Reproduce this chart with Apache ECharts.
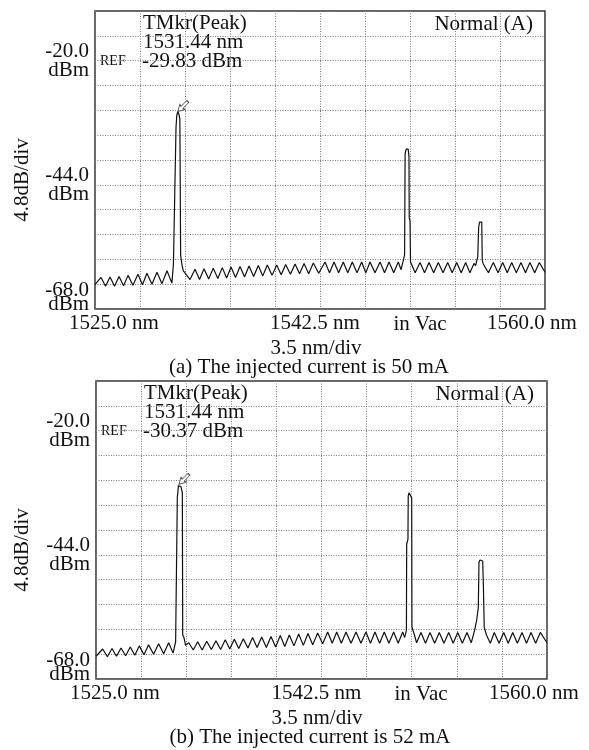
<!DOCTYPE html>
<html>
<head>
<meta charset="utf-8">
<title>OSA spectra</title>
<script src="https://cdn.jsdelivr.net/npm/echarts@6/dist/echarts.min.js"></script>
<style>
  html, body { margin: 0; padding: 0; background: #fff; }
  #chart { width: 589px; height: 750px; }
</style>
</head>
<body>
<div id="chart"></div>
<script>
// spectrum readings: [wavelength (nm), level (dBm)]
const spectrumA = [
  [1525.00, -63.3], [1525.47, -61.9], [1525.82, -63.6], [1526.17, -61.8], [1526.52, -63.6],
  [1526.87, -61.7], [1527.22, -63.5], [1527.57, -61.5], [1527.95, -63.4], [1528.34, -61.3],
  [1528.69, -63.3], [1529.04, -61.1], [1529.43, -63.2], [1529.82, -60.9], [1530.21, -63.1],
  [1530.60, -60.6], [1530.98, -63.0], [1531.10, -59.3], [1531.22, -59.0], [1531.30, -33.0],
  [1531.36, -30.6], [1531.44, -29.83], [1531.52, -30.3], [1531.60, -31.2], [1531.66, -57.6],
  [1531.76, -59.4], [1531.86, -60.6], [1532.39, -62.3], [1532.78, -60.3], [1533.13, -62.3],
  [1533.48, -60.2], [1533.84, -62.2], [1534.20, -60.1], [1534.55, -62.1], [1534.90, -60.0],
  [1535.24, -62.0], [1535.58, -59.9], [1535.93, -61.9], [1536.28, -59.8], [1536.63, -61.8],
  [1536.98, -59.7], [1537.34, -61.7], [1537.70, -59.6], [1538.05, -61.6], [1538.40, -59.5],
  [1538.77, -61.5], [1539.13, -59.5], [1539.48, -61.4], [1539.83, -59.4], [1540.20, -61.3],
  [1540.56, -59.3], [1540.91, -61.2], [1541.26, -59.2], [1541.62, -61.2], [1541.98, -59.1],
  [1542.40, -61.1], [1542.89, -58.9], [1543.24, -61.0], [1543.59, -58.9], [1543.95, -61.0],
  [1544.31, -58.9], [1544.66, -61.0], [1545.01, -58.9], [1545.38, -61.0], [1545.74, -58.9],
  [1546.06, -61.0], [1546.39, -58.9], [1546.78, -61.0], [1547.17, -58.9], [1547.52, -61.0],
  [1547.87, -58.9], [1548.23, -61.0], [1548.59, -58.9], [1548.80, -60.4], [1548.98, -58.6],
  [1549.08, -57.5], [1549.12, -38.0], [1549.20, -37.1], [1549.36, -37.1], [1549.42, -38.5],
  [1549.44, -50.3], [1549.50, -51.0], [1549.54, -58.9], [1549.90, -61.0], [1550.28, -59.0],
  [1550.63, -61.0], [1550.98, -59.0], [1551.34, -61.0], [1551.70, -59.0], [1552.07, -61.0],
  [1552.43, -59.0], [1552.78, -61.0], [1553.13, -59.0], [1553.48, -61.0], [1553.83, -59.0],
  [1554.16, -61.0], [1554.48, -59.2], [1554.60, -59.6], [1554.77, -57.9], [1554.84, -52.2],
  [1554.91, -51.2], [1555.08, -51.2], [1555.12, -58.6], [1555.20, -59.3], [1555.60, -61.0],
  [1555.98, -59.0], [1556.35, -61.0], [1556.71, -59.0], [1557.06, -61.0], [1557.41, -59.0],
  [1557.77, -61.0], [1558.13, -59.0], [1558.48, -61.0], [1558.83, -59.0], [1559.20, -61.0],
  [1559.56, -59.0], [1560.00, -60.9]
];

const spectrumB = [
  [1525.00, -63.6], [1525.52, -62.2], [1525.88, -63.7], [1526.24, -62.1], [1526.59, -63.6],
  [1526.94, -62.0], [1527.30, -63.5], [1527.66, -61.8], [1528.01, -63.4], [1528.36, -61.6],
  [1528.72, -63.3], [1529.08, -61.4], [1529.47, -63.2], [1529.86, -61.2], [1530.25, -63.1],
  [1530.64, -61.0], [1530.98, -63.0], [1531.18, -60.8], [1531.25, -60.6], [1531.31, -33.0],
  [1531.40, -30.6], [1531.44, -30.37], [1531.60, -30.9], [1531.70, -32.0], [1531.73, -59.5],
  [1531.83, -60.0], [1531.95, -61.5], [1532.20, -61.0], [1532.55, -62.4], [1532.89, -60.8],
  [1533.24, -62.4], [1533.59, -60.7], [1533.95, -62.3], [1534.31, -60.6], [1534.67, -62.3],
  [1535.03, -60.4], [1535.38, -62.2], [1535.73, -60.3], [1536.08, -62.1], [1536.43, -60.2],
  [1536.79, -62.0], [1537.15, -60.0], [1537.50, -61.9], [1537.86, -59.9], [1538.22, -61.9],
  [1538.58, -59.8], [1538.94, -61.8], [1539.30, -59.6], [1539.65, -61.7], [1540.00, -59.5],
  [1540.36, -61.6], [1540.73, -59.3], [1541.09, -61.5], [1541.45, -59.2], [1541.82, -61.4],
  [1542.20, -59.1], [1542.59, -61.2], [1542.98, -58.9], [1543.33, -61.1], [1543.68, -58.9],
  [1544.04, -61.1], [1544.40, -58.9], [1544.79, -61.1], [1545.18, -58.9], [1545.56, -61.1],
  [1545.95, -58.9], [1546.30, -61.1], [1546.65, -58.9], [1547.01, -61.1], [1547.37, -58.9],
  [1547.73, -61.1], [1548.10, -58.9], [1548.45, -61.1], [1548.80, -58.9], [1548.95, -60.0],
  [1549.09, -58.6], [1549.11, -41.9], [1549.21, -41.0], [1549.23, -32.6], [1549.30, -32.0],
  [1549.45, -32.2], [1549.50, -33.0], [1549.52, -58.0], [1549.68, -59.2], [1549.88, -61.0],
  [1550.22, -59.0], [1550.57, -61.1], [1550.92, -59.0], [1551.28, -61.1], [1551.64, -59.0],
  [1552.00, -61.1], [1552.37, -59.0], [1552.72, -61.1], [1553.07, -59.0], [1553.43, -61.1],
  [1553.79, -59.0], [1554.12, -61.0], [1554.41, -58.3], [1554.55, -56.5], [1554.67, -54.1],
  [1554.72, -45.5], [1554.80, -45.0], [1554.90, -44.9], [1555.01, -45.2], [1555.06, -49.6],
  [1555.13, -58.0], [1555.30, -59.5], [1555.60, -61.1], [1555.91, -59.0], [1556.28, -61.1],
  [1556.64, -59.0], [1556.99, -61.1], [1557.34, -59.0], [1557.70, -61.1], [1558.06, -59.0],
  [1558.41, -61.1], [1558.76, -59.0], [1559.12, -61.1], [1559.48, -59.0], [1560.00, -61.0]
];

// peak marker readouts
const markerA = [1531.44, -29.83];
const markerB = [1531.44, -30.37];

// axes
const xRange = [1525, 1560];
const xTicks = [1525, 1542.5, 1560];
const yRange = [-68, -10.4];
const yTicks = [-20, -44, -68];
const xDivs = 10;
const yDivs = 12;

const captions = ['(a) The injected current is 50 mA', '(b) The injected current is 52 mA'];

const FONT = '"Liberation Serif", "Times New Roman", serif';
const INK = '#111';

const panels = [
  { left: 95, top: 11, width: 450, height: 298, data: spectrumA, marker: markerA, caption: captions[0] },
  { left: 96, top: 381, width: 451, height: 298, data: spectrumB, marker: markerB, caption: captions[1] }
];

const chart = echarts.init(document.getElementById('chart'), null, { renderer: 'canvas' });

const grid = [], xAxis = [], yAxis = [], series = [], graphic = [];

// x tick labels are nudged like on the instrument screen
const xRich = {
  t0: { fontFamily: FONT, fontSize: 21, color: INK, padding: [0, 0, 0, 38] },
  t1: { fontFamily: FONT, fontSize: 21, color: INK, padding: [0, 10, 0, 0] },
  t2: { fontFamily: FONT, fontSize: 21, color: INK, padding: [0, 26, 0, 0] }
};
const yRich = {
  a: { fontFamily: FONT, fontSize: 21, color: INK, lineHeight: 19, align: 'right' },
  b: { fontFamily: FONT, fontSize: 21, color: INK, lineHeight: 14, align: 'right' },
  sp: { fontSize: 10, lineHeight: 24 }
};

const txt = (x, y, text, extra) => Object.assign({
  type: 'text', x: x, y: y, silent: true,
  style: Object.assign({ text: text, font: '21px ' + FONT, fill: INK, align: 'left', verticalAlign: 'middle' }, (extra && extra.style) || {})
}, extra ? { rotation: extra.rotation || 0 } : {});

panels.forEach((p, i) => {
  grid.push({ left: p.left, top: p.top, width: p.width, height: p.height, show: true,
    outerBoundsMode: 'none', containLabel: false,
    borderColor: '#333', borderWidth: 1.5, backgroundColor: 'transparent' });

  // data axes (nm / dBm)
  xAxis.push({
    type: 'value', gridIndex: i, min: xRange[0], max: xRange[1],
    axisLine: { show: false }, axisTick: { show: false }, splitLine: { show: false },
    axisLabel: {
      customValues: xTicks, margin: 4, lineHeight: 20,
      formatter: (v) => {
        const k = xTicks.indexOf(v);
        return '{t' + k + '|' + v.toFixed(1) + ' nm}';
      },
      rich: xRich
    }
  });
  yAxis.push({
    type: 'value', gridIndex: i, min: yRange[0], max: yRange[1],
    axisLine: { show: false }, axisTick: { show: false }, splitLine: { show: false },
    axisLabel: {
      customValues: yTicks, margin: 6, align: 'right',
      formatter: (v) => v === yRange[0]
        ? '{b|' + v.toFixed(1) + '}\n{b|dBm}\n{sp| }'
        : '{a|' + v.toFixed(1) + '}\n{a|dBm}',
      rich: yRich
    }
  });

  // division axes, only for the dotted screen grid
  xAxis.push({
    type: 'value', gridIndex: i, min: 0, max: xDivs, interval: 1,
    axisLine: { show: false }, axisTick: { show: false }, axisLabel: { show: false },
    splitLine: { show: true, lineStyle: { color: '#7a7a7a', type: [1, 1.5], width: 1 } }
  });
  yAxis.push({
    type: 'value', gridIndex: i, min: 0, max: yDivs, interval: 1,
    axisLine: { show: false }, axisTick: { show: false }, axisLabel: { show: false },
    splitLine: { show: true, lineStyle: { color: '#7a7a7a', type: [1, 1.5], width: 1 } }
  });

  series.push({
    type: 'line', xAxisIndex: i * 2, yAxisIndex: i * 2, data: p.data,
    showSymbol: false, silent: true,
    lineStyle: { color: INK, width: 1.2 },
    markPoint: {
      silent: true,
      symbol: 'path://M3,0 L7,0 L7,9 L10,9 L5,16 L0,9 L3,9 Z',
      symbolSize: [7, 14], symbolRotate: -45, symbolOffset: [5, -5],
      itemStyle: { color: '#fff', borderColor: '#555', borderWidth: 1 },
      label: { show: false },
      data: [{ coord: p.marker }]
    }
  });

  const L = p.left, T = p.top;
  graphic.push(
    txt(L + 48, T + 12, 'TMkr(Peak)'),
    txt(L + 48, T + 31, p.marker[0].toFixed(2) + ' nm'),
    txt(L + 47, T + 50, p.marker[1].toFixed(2) + ' dBm'),
    txt(L + 5, T + 50, 'REF', { style: { font: '14px ' + FONT } }),
    txt(L + 438, T + 13, 'Normal (A)', { style: { align: 'right' } }),
    txt(L + 325, T + 313, 'in Vac', { style: { align: 'center' } }),
    txt(L + 221, T + 337, '3.5 nm/div', { style: { align: 'center' } }),
    txt(L + 214, T + 356, p.caption, { style: { align: 'center' } }),
    txt(22, T + 169, '4.8dB/div', { rotation: Math.PI / 2, style: { align: 'center' } })
  );
});

chart.setOption({
  animation: false,
  backgroundColor: '#fff',
  textStyle: { fontFamily: FONT, color: INK },
  grid: grid,
  xAxis: xAxis,
  yAxis: yAxis,
  series: series,
  graphic: graphic
});

window.addEventListener('resize', () => chart.resize());
</script>
</body>
</html>
